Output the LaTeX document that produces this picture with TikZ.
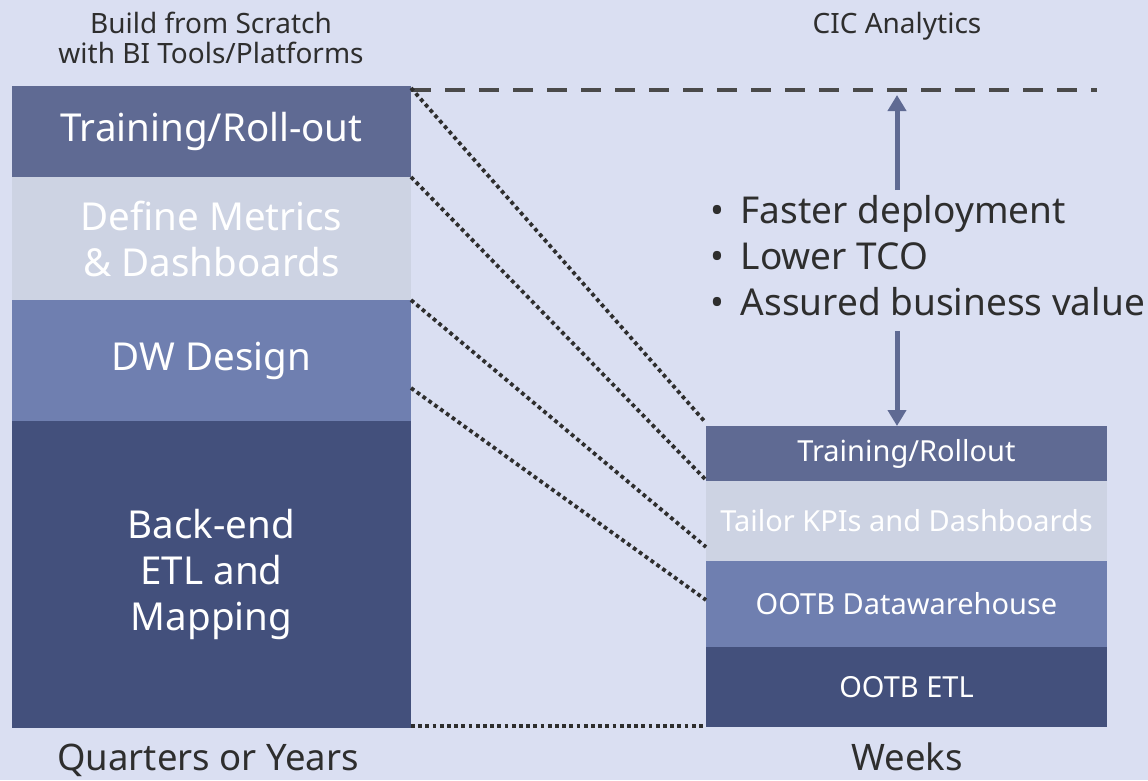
\documentclass[tikz,border=0pt]{standalone}
\usepackage{fontspec}
\setmainfont{Noto Sans}
\usetikzlibrary{arrows.meta,calc}
\definecolor{bg}{HTML}{DADFF2}
\definecolor{cA}{HTML}{5F6A93}
\definecolor{cB}{HTML}{CDD3E3}
\definecolor{cC}{HTML}{6F7FB0}
\definecolor{cD}{HTML}{43507C}
\definecolor{ink}{HTML}{2E2E2E}
\definecolor{dash}{HTML}{4A4A4A}
\begin{document}
\begin{tikzpicture}[x=1pt,y=-1pt,
  box/.style={rectangle, inner sep=0pt, outer sep=0pt, anchor=north west, text=white, align=center},
  bigtxt/.style={font=\fontsize{38.5}{46}\selectfont},
  smalltxt/.style={font=\fontsize{29}{30}\selectfont},
  headtxt/.style={font=\fontsize{28}{30}\selectfont},
  bultxt/.style={font=\fontsize{37}{46}\selectfont},
  foottxt/.style={font=\fontsize{36.5}{40}\selectfont},
  lbl/.style={text=ink, align=center, inner sep=0pt},
  dotline/.style={draw=ink, line width=3.8pt, dash pattern=on 3.8pt off 3.4pt},
  dashline/.style={draw=dash, line width=4pt, dash pattern=on 20pt off 14pt},
  bigarrow/.style={draw=cA, line width=5pt, -{Triangle[width=18pt,length=16pt]}}
]
\useasboundingbox[fill=bg] (0,0) rectangle (1148,780);

% left stack
\node[box, fill=cA, minimum width=399pt, minimum height=91pt, bigtxt] (ltr) at (12,86) {Training/Roll-out};
\node[box, fill=cB, minimum width=399pt, minimum height=123pt, bigtxt] (ldm) at (12,177) {Define Metrics\\\& Dashboards};
\node[box, fill=cC, minimum width=399pt, minimum height=121pt, bigtxt] (ldw) at (12,300) {DW Design};
\node[box, fill=cD, minimum width=399pt, minimum height=307pt, bigtxt] (letl) at (12,421) {Back-end\\ETL and\\Mapping};

% right stack
\node[box, fill=cA, minimum width=401pt, minimum height=55pt, smalltxt] (rtr) at (706,426) {Training/Rollout};
\node[box, fill=cB, minimum width=401pt, minimum height=80pt, smalltxt] (rkpi) at (706,481) {Tailor KPIs and Dashboards};
\node[box, fill=cC, minimum width=401pt, minimum height=86pt, smalltxt] (rdw) at (706,561) {OOTB Datawarehouse};
\node[box, fill=cD, minimum width=401pt, minimum height=80pt, smalltxt] (retl) at (706,647) {OOTB ETL};

% headings
\node[lbl, headtxt, anchor=base] (hl1) at (211,33) {Build from Scratch};
\node[lbl, headtxt, anchor=base] (hl2) at (211,63) {with BI Tools/Platforms};
\node[lbl, headtxt, anchor=base] (hr) at (897,33) {CIC Analytics};
\node[lbl, foottxt, anchor=base] (bl) at (208,770) {Quarters or Years};
\node[lbl, foottxt, anchor=base] (br) at (907,770) {Weeks};

% bullets
\node[lbl, bultxt, anchor=base west] (bul1) at (710,223) {•\hspace{0.45em}Faster deployment};
\node[lbl, bultxt, anchor=base west] (bul2) at (710,269) {•\hspace{0.45em}Lower TCO};
\node[lbl, bultxt, anchor=base west] (bul3) at (710,315) {•\hspace{0.45em}Assured business value};

% dashed level line
\coordinate (dend) at (1097,90);
\draw[dashline] (ltr.north east) ++(0,4) -- (dend);

% arrows
\coordinate (aup1) at (897,190);
\coordinate (aup2) at (897,95);
\coordinate (adn1) at (897,331);
\coordinate (adn2) at (897,426);
\draw[bigarrow] (aup1) -- (aup2);
\draw[bigarrow] (adn1) -- (adn2);

% dotted connectors
\coordinate (s1) at (411,88);
\coordinate (e1) at (706,423);
\coordinate (s2) at (411,177);
\coordinate (e2) at (706,480);
\coordinate (s3) at (411,300);
\coordinate (e3) at (706,547);
\coordinate (s4) at (411,388);
\coordinate (e4) at (706,600);
\coordinate (s5) at (411,726);
\coordinate (e5) at (706,726);
\draw[dotline] (s1) -- (e1);
\draw[dotline] (s2) -- (e2);
\draw[dotline] (s3) -- (e3);
\draw[dotline] (s4) -- (e4);
\draw[dotline] (s5) -- (e5);
\end{tikzpicture}
\end{document}
